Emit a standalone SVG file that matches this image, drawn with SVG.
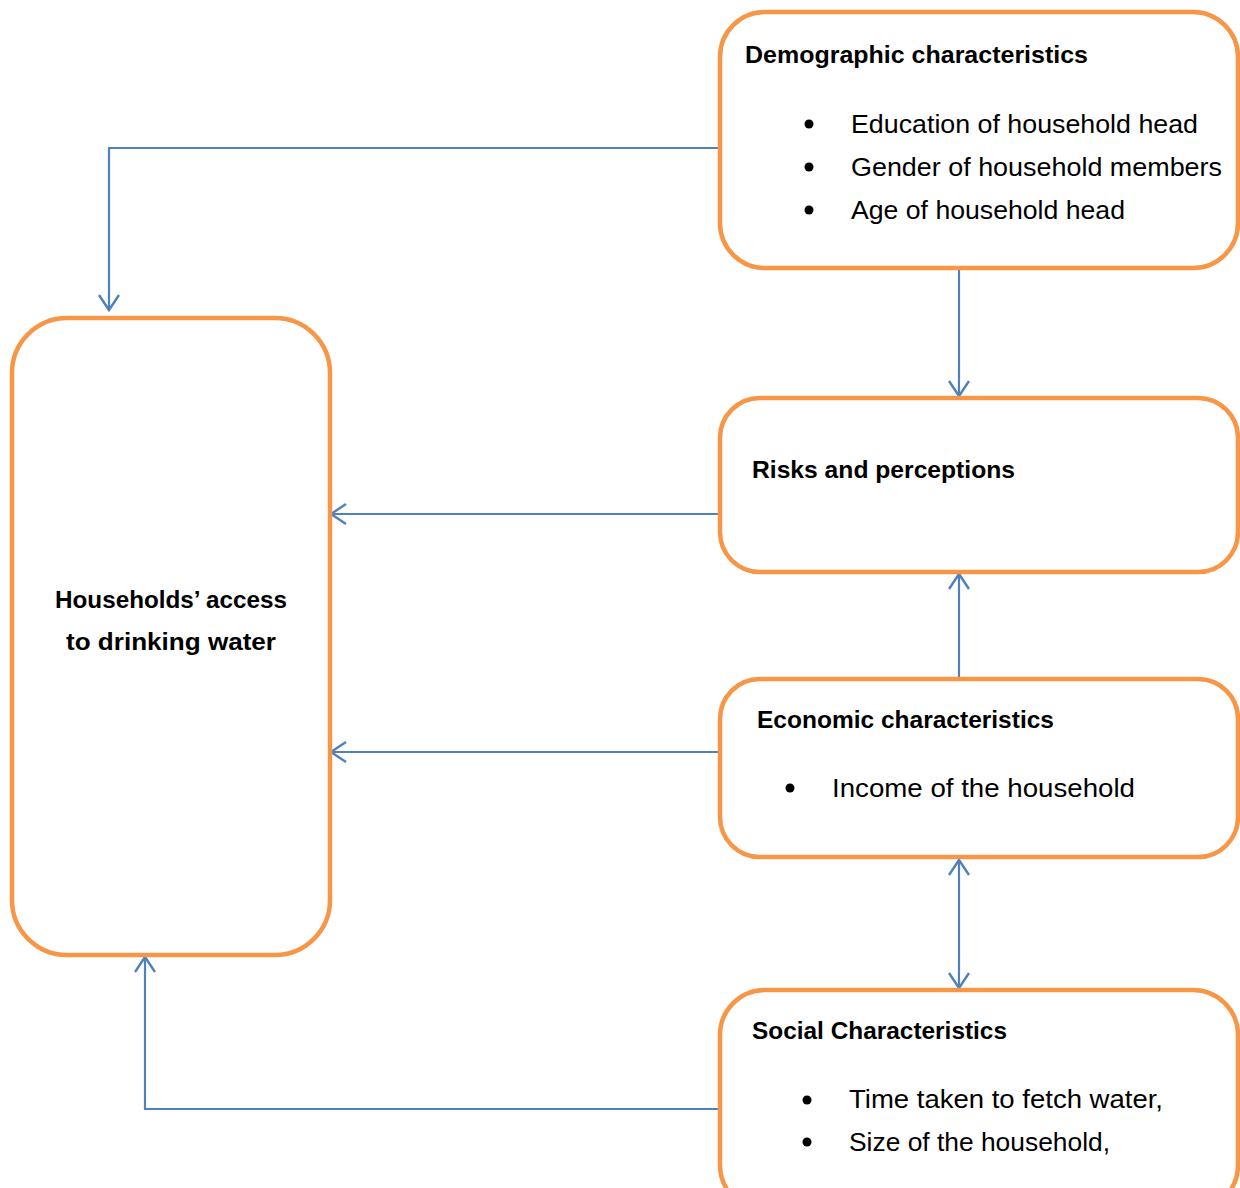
<svg xmlns="http://www.w3.org/2000/svg" width="1240" height="1188" viewBox="0 0 1240 1188">
<defs>
<style>
.box{fill:#fff;stroke:#F79646;stroke-width:4.5}
.con{fill:none;stroke:#4F81BD;stroke-width:2.2}
.t{font-family:"Liberation Sans",Arial,sans-serif;fill:#000}
.b{font-weight:bold;font-size:24px}
.n{font-size:25px}
</style>
<marker id="ah" markerUnits="userSpaceOnUse" markerWidth="24" markerHeight="24" viewBox="0 0 24 24" refX="20" refY="12" orient="auto-start-reverse">
<path d="M5,2 L20,12 L5,22" fill="none" stroke="#4F81BD" stroke-width="2.4"/>
</marker>
</defs>
<rect width="1240" height="1188" fill="#fff"/>
<g id="connectors">
<path class="con" d="M720,148 H109 V310" marker-end="url(#ah)"/>
<path class="con" d="M959,268 V396" marker-end="url(#ah)"/>
<path class="con" d="M720,514 H331" marker-end="url(#ah)"/>
<path class="con" d="M959,679 V574" marker-end="url(#ah)"/>
<path class="con" d="M720,752 H331" marker-end="url(#ah)"/>
<path class="con" d="M959,860 V988" marker-start="url(#ah)" marker-end="url(#ah)"/>
<path class="con" d="M720,1109 H145 V957" marker-end="url(#ah)"/>
</g>
<g id="access">
<rect class="box" x="12" y="318" width="318" height="637" rx="55"/>
<text class="t b" x="55" y="608" textLength="232" lengthAdjust="spacingAndGlyphs">Households’ access</text>
<text class="t b" x="66" y="650" textLength="210" lengthAdjust="spacingAndGlyphs">to drinking water</text>
</g>
<g id="demographic">
<rect class="box" x="720" y="12" width="518" height="256" rx="45"/>
<text class="t b" x="745" y="63" textLength="343" lengthAdjust="spacingAndGlyphs">Demographic characteristics</text>
<circle cx="809" cy="124" r="4.5"/>
<circle cx="809" cy="167" r="4.5"/>
<circle cx="809" cy="210" r="4.5"/>
<text class="t n" x="851" y="133" textLength="347" lengthAdjust="spacingAndGlyphs">Education of household head</text>
<text class="t n" x="851" y="176" textLength="371" lengthAdjust="spacingAndGlyphs">Gender of household members</text>
<text class="t n" x="851" y="219" textLength="274" lengthAdjust="spacingAndGlyphs">Age of household head</text>
</g>
<g id="risks">
<rect class="box" x="720" y="398" width="518" height="174" rx="40"/>
<text class="t b" x="752" y="478" textLength="263" lengthAdjust="spacingAndGlyphs">Risks and perceptions</text>
</g>
<g id="economic">
<rect class="box" x="720" y="679" width="518" height="178" rx="40"/>
<text class="t b" x="757" y="728" textLength="297" lengthAdjust="spacingAndGlyphs">Economic characteristics</text>
<circle cx="790" cy="788" r="4.5"/>
<text class="t n" x="832" y="797" textLength="303" lengthAdjust="spacingAndGlyphs">Income  of the household</text>
</g>
<g id="social">
<rect class="box" x="720" y="990" width="518" height="220" rx="45"/>
<text class="t b" x="752" y="1039" textLength="255" lengthAdjust="spacingAndGlyphs">Social Characteristics</text>
<circle cx="807" cy="1100" r="4.5"/>
<circle cx="807" cy="1142" r="4.5"/>
<text class="t n" x="849" y="1108" textLength="314" lengthAdjust="spacingAndGlyphs">Time taken to fetch water,</text>
<text class="t n" x="849" y="1151" textLength="261" lengthAdjust="spacingAndGlyphs">Size of the household,</text>
</g>
</svg>
